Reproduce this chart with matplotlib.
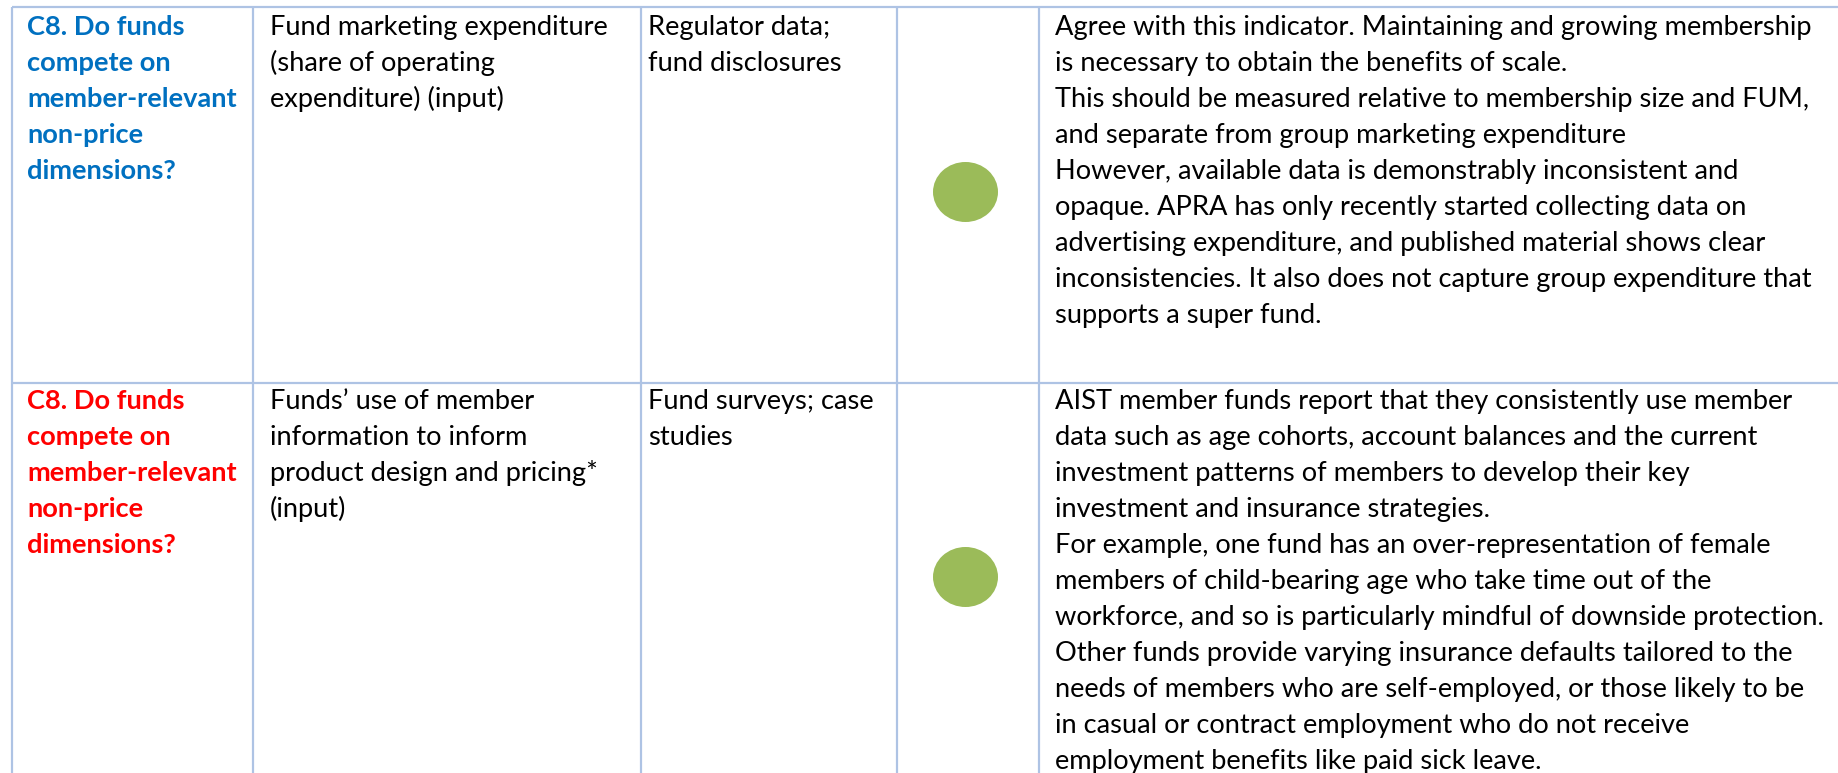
import matplotlib
matplotlib.use("Agg")
import matplotlib.pyplot as plt
from matplotlib.patches import Ellipse

# table content, one list per cell (lines as shown)
questions = [
  ["C8. Do funds", "compete on", "member-relevant", "non-price", "dimensions?"],
  ["C8. Do funds", "compete on", "member-relevant", "non-price", "dimensions?"],
]
question_colors = ["#0070C0", "#FF0000"]
indicators = [
  ["Fund marketing expenditure", "(share of operating", "expenditure) (input)"],
  ["Funds\u2019 use of member", "information to inform", "product design and pricing*", "(input)"],
]
sources = [
  ["Regulator data;", "fund disclosures"],
  ["Fund surveys; case", "studies"],
]
ratings = ["green", "green"]
comments = [
  ["Agree with this indicator. Maintaining and growing membership",
   "is necessary to obtain the benefits of scale.",
   "This should be measured relative to membership size and FUM,",
   "and separate from group marketing expenditure",
   "However, available data is demonstrably inconsistent and",
   "opaque. APRA has only recently started collecting data on",
   "advertising expenditure, and published material shows clear",
   "inconsistencies. It also does not capture group expenditure that",
   "supports a super fund."],
  ["AIST member funds report that they consistently use member",
   "data such as age cohorts, account balances and the current",
   "investment patterns of members to develop their key",
   "investment and insurance strategies.",
   "For example, one fund has an over-representation of female",
   "members of child-bearing age who take time out of the",
   "workforce, and so is particularly mindful of downside protection.",
   "Other funds provide varying insurance defaults tailored to the",
   "needs of members who are self-employed, or those likely to be",
   "in casual or contract employment who do not receive",
   "employment benefits like paid sick leave."],
]

W, H = 1838, 773
plt.rcParams['font.family'] = ['Lato', 'DejaVu Sans']

fig = plt.figure(figsize=(W/100, H/100), dpi=100)
ax = fig.add_axes([0, 0, 1, 1])
ax.set_xlim(0, W)
ax.set_ylim(H, 0)
ax.axis('off')

# layout in pixels
col_x = [12, 253, 641, 897, 1039]
row_y = [7, 383]
text_x = [27, 270, 648, None, 1055]
first_base = [35, 409]
spacing = 36.0
line_col = "#AEC3E4"
dot_col = "#9BBB59"

# fit font size so the longest comment line matches its width in the reference
probe = ax.text(0, 0, comments[0][0], fontsize=20)
fig.canvas.draw()
w = probe.get_window_extent().width
probe.remove()
fs = 20 * 759 / w

for x in col_x:
  ax.plot([x, x], [row_y[0], H], color=line_col, lw=1.6, solid_capstyle='butt')
for y in row_y:
  ax.plot([col_x[0], W], [y, y], color=line_col, lw=1.6, solid_capstyle='butt')

dot_y = [192, 577]
for r in range(2):
  b = first_base[r]
  for i, s in enumerate(questions[r]):
    ax.text(text_x[0], b + i*spacing, s, fontsize=fs, fontweight='bold',
            color=question_colors[r], va='baseline', ha='left')
  for i, s in enumerate(indicators[r]):
    ax.text(text_x[1], b + i*spacing, s, fontsize=fs, color='black', va='baseline', ha='left')
  for i, s in enumerate(sources[r]):
    ax.text(text_x[2], b + i*spacing, s, fontsize=fs, color='black', va='baseline', ha='left')
  for i, s in enumerate(comments[r]):
    ax.text(text_x[4], b + i*spacing, s, fontsize=fs, color='black', va='baseline', ha='left')
  if ratings[r] == "green":
    ax.add_patch(Ellipse((965.5, dot_y[r]), 65, 60, color=dot_col, lw=0))

plt.savefig("out.png", dpi=100)
